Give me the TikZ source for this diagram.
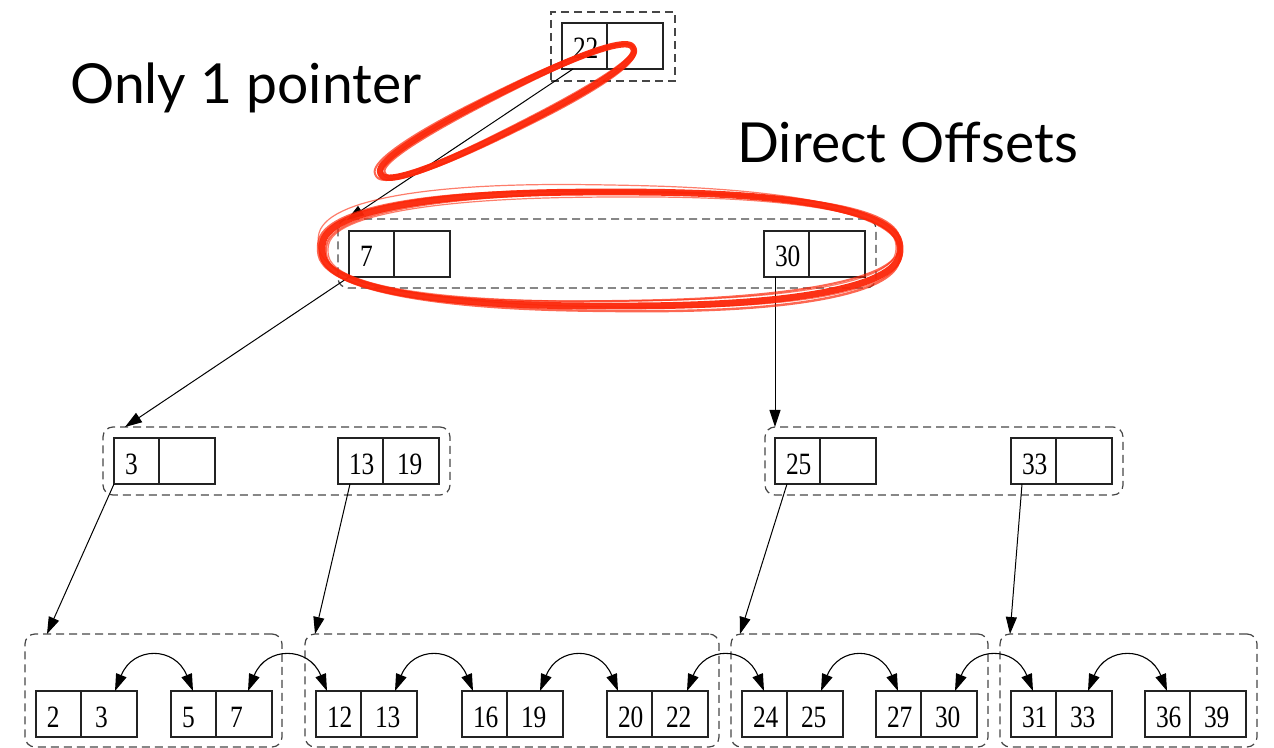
\documentclass[tikz,border=0pt]{standalone}
\usepackage{fontspec}
\newfontfamily\keyfont{Liberation Serif}[FakeStretch=0.82]
\newfontfamily\notefont{Lato}
\usetikzlibrary{arrows.meta,calc,fit}

\definecolor{brush}{RGB}{252,38,8}
\definecolor{boxline}{RGB}{35,35,35}
\definecolor{dashline}{RGB}{70,70,70}

% key text inside a cell: left cell 22.5pt wide, right cell 28pt wide
\newcommand\lkey[1]{\makebox[22.5pt][l]{\hspace*{5.5pt}#1}}
\newcommand\rkey[1]{\makebox[28pt][l]{\hspace*{7pt}#1}}
% a two-slot key record: name, left x, top y, first key, second key
\newcommand\keypair[5]{%
  \node[lcell] (#1a) at ({#2+22.5},{#3+23}) {\lkey{#4}};
  \node[lcell, anchor=west] (#1b) at (#1a.east) {\rkey{#5}};}
% a hand-drawn marker loop: cx, cy, a, b, angle, width, opacity
\newcommand\brushloop[7]{%
  \draw[brushstroke, line width=#6, opacity=#7, rotate around={#5:(#1,#2)}]
    plot[domain=1.5:361.5, samples=121]
    ({#1+#3*sign(cos(\x))*pow(abs(cos(\x)),0.833)},
     {#2+#4*sign(sin(\x))*pow(abs(sin(\x)),0.833)}) -- cycle;}

\tikzset{
  lcell/.style={draw=boxline, line width=0.6pt, inner sep=0pt, outer sep=0pt,
    minimum height=23pt, text height=13pt, text depth=0pt,
    font=\keyfont\fontsize{15.5pt}{18pt}\selectfont},
  group/.style={draw=dashline, line width=0.6pt, dash pattern=on 4pt off 2.5pt,
    rounded corners=5pt, inner sep=0pt, outer sep=0pt},
  treeedge/.style={draw=black, line width=0.5pt,
    -{Triangle[length=8.5pt,width=5.5pt]}},
  siblink/.style={draw=black, line width=0.55pt,
    {Triangle[length=8.5pt,width=5.5pt]}-{Triangle[length=8.5pt,width=5.5pt]}},
  note/.style={anchor=base west, inner sep=0pt,
    font=\notefont\fontsize{27.6pt}{32pt}\selectfont},
  brushstroke/.style={draw=brush, line join=round}
}

\begin{document}
\begin{tikzpicture}[x=0.5pt, y=-0.5pt]
\useasboundingbox (0,0) rectangle (1274,748);

% groups of records
\node[group, rounded corners=0pt, fit={(551,12) (675,81)}] (g0) {};
\node[group, fit={(338,219) (876,288)}] (g1) {};
\node[group, fit={(103,427) (450,495)}] (g2a) {};
\node[group, fit={(765,427) (1123,495)}] (g2b) {};
\node[group, fit={(25,634) (282,747)}] (g3a) {};
\node[group, fit={(305,634) (719,747)}] (g3b) {};
\node[group, fit={(731,634) (988,747)}] (g3c) {};
\node[group, fit={(1000,634) (1257,747)}] (g3d) {};

% records
\keypair{r}{562}{23}{22}{}
\keypair{a7}{349}{231}{7}{}
\keypair{a30}{764}{231}{30}{}
\keypair{b3}{114}{438}{3}{}
\keypair{b13}{338}{438}{13}{19}
\keypair{b25}{775}{438}{25}{}
\keypair{b33}{1011}{438}{33}{}
\keypair{k2}{36}{691}{2}{3}
\keypair{k5}{171}{691}{5}{7}
\keypair{k12}{316}{691}{12}{13}
\keypair{k16}{462}{691}{16}{19}
\keypair{k20}{607}{691}{20}{22}
\keypair{k24}{742}{691}{24}{25}
\keypair{k27}{876}{691}{27}{30}
\keypair{k31}{1011}{691}{31}{33}
\keypair{k36}{1145}{691}{36}{39}

% child pointers
\draw[treeedge] ($(ra.south)+(-11.5,0)$) -- ($(g1.north west)+(9,1)$);
\draw[treeedge] (a7a.south west) -- ($(g2a.north west)+(22,0)$);
\draw[treeedge] ($(a30a.south west)+(11,0)$) -- ($(g2b.north west)+(10,0)$);
\draw[treeedge] (b3a.south west) -- ($(g3a.north west)+(22,0)$);
\draw[treeedge] ($(b13a.south west)+(12,0)$) -- ($(g3b.north west)+(10,0)$);
\draw[treeedge] ($(b25a.south west)+(12,0)$) -- ($(g3c.north west)+(9,0)$);
\draw[treeedge] ($(b33a.south west)+(11,0)$) -- ($(g3d.north west)+(10,0)$);

% sibling links between leaf records
\draw[siblink] ($(k2b.north)+(6,0)$) .. controls +(18,-45) and +(-18,-45) .. ($(k5a.north)+(-0.5,0)$);
\draw[siblink] ($(k5b.north)+(4,0)$) .. controls +(18,-45) and +(-18,-45) .. ($(k12a.north)+(-11.5,0)$);
\draw[siblink] ($(k12b.north)+(6,0)$) .. controls +(18,-45) and +(-18,-45) .. ($(k16a.north)+(-11.5,0)$);
\draw[siblink] ($(k16b.north)+(5,0)$) .. controls +(18,-45) and +(-18,-45) .. ($(k20a.north)+(-11.5,0)$);
\draw[siblink] ($(k20b.north)+(7,0)$) .. controls +(18,-45) and +(-18,-45) .. ($(k24a.north)+(-0.5,0)$);
\draw[siblink] ($(k24b.north)+(6,0)$) .. controls +(18,-45) and +(-18,-45) .. ($(k27a.north)+(-0.5,0)$);
\draw[siblink] ($(k27b.north)+(6,0)$) .. controls +(18,-45) and +(-18,-45) .. ($(k31a.north)+(-0.5,0)$);
\draw[siblink] ($(k31b.north)+(4,0)$) .. controls +(18,-45) and +(-18,-45) .. ($(k36a.north)+(-0.5,0)$);

% annotations
\node[note] (n1) at (70,104) {Only 1 pointer};
\node[note] (n2) at (737,163) {Direct Offsets};

% marker loops
\brushloop{507}{111}{141}{19}{26.5}{3.2pt}{0.95}
\brushloop{509}{110}{139}{16}{27}{1.0pt}{0.7}
\brushloop{505}{112}{144}{22}{26}{1.0pt}{0.7}
\brushloop{508}{111}{140}{20}{26.8}{0.6pt}{0.6}

\brushloop{611}{249}{289}{57}{0}{3.4pt}{0.95}
\brushloop{613}{247}{287}{54}{0.8}{1.0pt}{0.7}
\brushloop{609}{251}{291}{60}{-0.6}{1.2pt}{0.7}
\brushloop{612}{249}{284}{52}{0.3}{0.6pt}{0.6}
\brushloop{610}{246}{292}{61}{-1}{0.6pt}{0.6}
\end{tikzpicture}
\end{document}
